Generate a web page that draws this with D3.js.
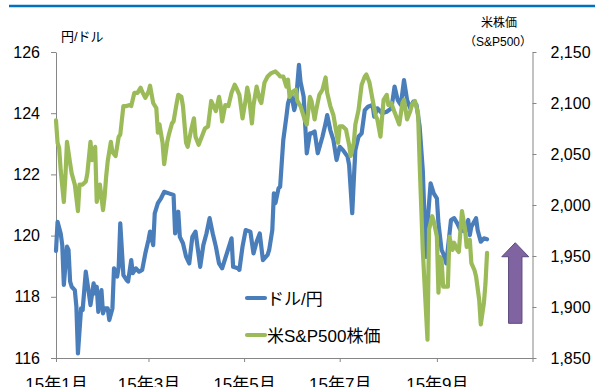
<!DOCTYPE html>
<html>
<head>
<meta charset="utf-8">
<script src="https://cdn.jsdelivr.net/npm/d3@7"></script>
<style>
    body { margin: 0; background: #fff; }
    svg { display: block; }
    .num { font-family: "Liberation Sans", Arial, sans-serif; }
    .jp { font-family: "Liberation Sans", "Noto Sans CJK JP", sans-serif; }
</style>
</head>
<body>
<svg id="chart" width="595" height="387"></svg>
<script>
// dollar / yen
const usdJpy = [
    ["2015-01-01", 119.5], ["2015-01-02", 120.45], ["2015-01-04", 120.07], ["2015-01-05", 119.69],
    ["2015-01-06", 118.39], ["2015-01-08", 119.64], ["2015-01-09", 119.53], ["2015-01-10", 118.5],
    ["2015-01-11", 118.33], ["2015-01-13", 118.22], ["2015-01-14", 117.68], ["2015-01-15", 116.15],
    ["2015-01-17", 117.62], ["2015-01-18", 117.57], ["2015-01-20", 118.82], ["2015-01-22", 118.11],
    ["2015-01-23", 117.73], ["2015-01-25", 118.44], ["2015-01-26", 118.11], ["2015-01-27", 118.33],
    ["2015-01-28", 117.51], ["2015-01-30", 118.22], ["2015-01-31", 117.46], ["2015-02-01", 117.62],
    ["2015-02-03", 117.62], ["2015-02-04", 117.24], ["2015-02-06", 117.62], ["2015-02-07", 118.93],
    ["2015-02-09", 118.66], ["2015-02-10", 118.98], ["2015-02-11", 120.4], ["2015-02-13", 118.71],
    ["2015-02-15", 118.55], ["2015-02-16", 118.5], ["2015-02-18", 119.2], ["2015-02-19", 118.77],
    ["2015-02-21", 118.93], ["2015-02-23", 118.82], ["2015-02-25", 118.88], ["2015-02-27", 119.42],
    ["2015-03-01", 119.86], ["2015-03-02", 120.13], ["2015-03-04", 119.69], ["2015-03-05", 120.73],
    ["2015-03-07", 121.06], ["2015-03-09", 121.22], ["2015-03-11", 121.43], ["2015-03-14", 121.38],
    ["2015-03-17", 121.33], ["2015-03-18", 120.07], ["2015-03-20", 120.78], ["2015-03-21", 119.96],
    ["2015-03-23", 119.75], ["2015-03-25", 119.31], ["2015-03-27", 119.09], ["2015-03-29", 119.96],
    ["2015-03-31", 120.13], ["2015-04-03", 118.98], ["2015-04-05", 119.69], ["2015-04-07", 120.07],
    ["2015-04-09", 120.57], ["2015-04-11", 120.07], ["2015-04-13", 119.64], ["2015-04-15", 119.09],
    ["2015-04-17", 118.93], ["2015-04-20", 119.42], ["2015-04-23", 119.91], ["2015-04-24", 118.98],
    ["2015-04-27", 118.93], ["2015-04-28", 118.88], ["2015-04-30", 119.64], ["2015-05-02", 120.18],
    ["2015-05-05", 120.13], ["2015-05-07", 119.42], ["2015-05-09", 119.8], ["2015-05-11", 120.07],
    ["2015-05-13", 119.2], ["2015-05-16", 119.37], ["2015-05-17", 119.53], ["2015-05-19", 120.18],
    ["2015-05-20", 121.38], ["2015-05-21", 121.06], ["2015-05-23", 121.55], ["2015-05-24", 121.6],
    ["2015-05-26", 123.12], ["2015-05-28", 123.89], ["2015-05-29", 124.32], ["2015-05-31", 124.65],
    ["2015-06-02", 124.1], ["2015-06-03", 124.32], ["2015-06-05", 125.58], ["2015-06-06", 125.03],
    ["2015-06-08", 124.54], ["2015-06-10", 122.69], ["2015-06-12", 123.34], ["2015-06-13", 123.34],
    ["2015-06-15", 123.4], ["2015-06-17", 122.69], ["2015-06-20", 123.23], ["2015-06-22", 123.67],
    ["2015-06-23", 123.94], ["2015-06-25", 123.45], ["2015-06-27", 123.12], ["2015-06-29", 122.47],
    ["2015-07-01", 122.9], ["2015-07-03", 122.8], ["2015-07-06", 122.58], ["2015-07-07", 122.31],
    ["2015-07-09", 120.73], ["2015-07-10", 121.82], ["2015-07-11", 122.8], ["2015-07-13", 123.23],
    ["2015-07-15", 123.34], ["2015-07-17", 124.1], ["2015-07-19", 124.21], ["2015-07-22", 124.27],
    ["2015-07-23", 123.89], ["2015-07-25", 124.16], ["2015-07-28", 124.0], ["2015-07-31", 124.05],
    ["2015-08-03", 124.16], ["2015-08-05", 124.87], ["2015-08-07", 124.43], ["2015-08-09", 124.27],
    ["2015-08-11", 125.08], ["2015-08-13", 124.43], ["2015-08-15", 124.16], ["2015-08-17", 124.38],
    ["2015-08-19", 124.27], ["2015-08-21", 123.56], ["2015-08-23", 122.14], ["2015-08-25", 119.3],
    ["2015-08-26", 120.4], ["2015-08-28", 121.71], ["2015-08-30", 121.38], ["2015-09-01", 121.22],
    ["2015-09-02", 120.4], ["2015-09-04", 119.53], ["2015-09-05", 119.42], ["2015-09-07", 119.09],
    ["2015-09-10", 120.51], ["2015-09-12", 120.57], ["2015-09-14", 120.4], ["2015-09-16", 120.18],
    ["2015-09-19", 120.13], ["2015-09-21", 120.51], ["2015-09-22", 120.02], ["2015-09-23", 120.29],
    ["2015-09-26", 120.57], ["2015-09-27", 120.18], ["2015-09-29", 119.8], ["2015-10-01", 119.91],
    ["2015-10-03", 119.88]
];

// S&P500
const spx = [
    ["2015-01-01", 2083], ["2015-01-02", 2061], ["2015-01-03", 2056], ["2015-01-04", 2034],
    ["2015-01-06", 2003], ["2015-01-07", 2028], ["2015-01-08", 2062], ["2015-01-10", 2041],
    ["2015-01-11", 2031], ["2015-01-13", 2020], ["2015-01-15", 1994], ["2015-01-16", 2020],
    ["2015-01-18", 2020], ["2015-01-20", 2023], ["2015-01-21", 2031], ["2015-01-23", 2062],
    ["2015-01-24", 2044], ["2015-01-26", 2057], ["2015-01-27", 2003], ["2015-01-29", 2020],
    ["2015-01-31", 1995], ["2015-02-01", 2008], ["2015-02-02", 2028], ["2015-02-03", 2043],
    ["2015-02-05", 2062], ["2015-02-06", 2052], ["2015-02-08", 2048], ["2015-02-10", 2067],
    ["2015-02-11", 2069], ["2015-02-13", 2097], ["2015-02-15", 2097], ["2015-02-17", 2098],
    ["2015-02-18", 2097], ["2015-02-20", 2110], ["2015-02-22", 2110], ["2015-02-24", 2115],
    ["2015-02-25", 2111], ["2015-02-27", 2105], ["2015-03-01", 2111], ["2015-03-02", 2117],
    ["2015-03-04", 2100], ["2015-03-06", 2095], ["2015-03-07", 2071], ["2015-03-08", 2079],
    ["2015-03-10", 2061], ["2015-03-11", 2040], ["2015-03-13", 2062], ["2015-03-14", 2069],
    ["2015-03-16", 2080], ["2015-03-17", 2082], ["2015-03-19", 2100], ["2015-03-20", 2108],
    ["2015-03-22", 2106], ["2015-03-23", 2097], ["2015-03-25", 2061], ["2015-03-26", 2057],
    ["2015-03-28", 2072], ["2015-03-30", 2085], ["2015-03-31", 2067], ["2015-04-02", 2059],
    ["2015-04-04", 2067], ["2015-04-06", 2075], ["2015-04-08", 2077], ["2015-04-10", 2102],
    ["2015-04-13", 2092], ["2015-04-15", 2106], ["2015-04-16", 2098], ["2015-04-17", 2082],
    ["2015-04-19", 2098], ["2015-04-21", 2097], ["2015-04-23", 2110], ["2015-04-25", 2118],
    ["2015-04-26", 2115], ["2015-04-28", 2108], ["2015-04-30", 2085], ["2015-05-02", 2103],
    ["2015-05-03", 2115], ["2015-05-04", 2108], ["2015-05-06", 2080], ["2015-05-07", 2098],
    ["2015-05-09", 2116], ["2015-05-11", 2103], ["2015-05-12", 2100], ["2015-05-14", 2120],
    ["2015-05-16", 2126], ["2015-05-18", 2129], ["2015-05-21", 2131], ["2015-05-23", 2128],
    ["2015-05-24", 2126], ["2015-05-26", 2126], ["2015-05-28", 2116], ["2015-05-29", 2123],
    ["2015-05-30", 2106], ["2015-06-01", 2111], ["2015-06-03", 2113], ["2015-06-04", 2102],
    ["2015-06-06", 2097], ["2015-06-09", 2082], ["2015-06-10", 2079], ["2015-06-12", 2106],
    ["2015-06-13", 2102], ["2015-06-15", 2084], ["2015-06-16", 2093], ["2015-06-18", 2108],
    ["2015-06-20", 2113], ["2015-06-22", 2125], ["2015-06-23", 2110], ["2015-06-25", 2097],
    ["2015-06-27", 2088], ["2015-06-28", 2079], ["2015-06-30", 2061], ["2015-07-01", 2077],
    ["2015-07-03", 2077], ["2015-07-05", 2074], ["2015-07-07", 2059], ["2015-07-08", 2048],
    ["2015-07-10", 2061], ["2015-07-11", 2079], ["2015-07-13", 2093], ["2015-07-15", 2118],
    ["2015-07-17", 2126], ["2015-07-18", 2128], ["2015-07-20", 2120], ["2015-07-22", 2103],
    ["2015-07-24", 2087], ["2015-07-25", 2084], ["2015-07-27", 2067], ["2015-07-29", 2103],
    ["2015-07-31", 2108], ["2015-08-01", 2098], ["2015-08-03", 2100], ["2015-08-04", 2095],
    ["2015-08-06", 2087], ["2015-08-08", 2079], ["2015-08-10", 2100], ["2015-08-11", 2103],
    ["2015-08-13", 2084], ["2015-08-15", 2092], ["2015-08-16", 2098], ["2015-08-18", 2102],
    ["2015-08-20", 2090], ["2015-08-21", 2041], ["2015-08-23", 1956], ["2015-08-25", 1897],
    ["2015-08-26", 1868], ["2015-08-27", 1976], ["2015-08-29", 1989], ["2015-08-30", 1984],
    ["2015-09-01", 1969], ["2015-09-02", 1914], ["2015-09-03", 1949], ["2015-09-04", 1946],
    ["2015-09-05", 1920], ["2015-09-08", 1920], ["2015-09-09", 1969], ["2015-09-11", 1956],
    ["2015-09-12", 1963], ["2015-09-14", 1956], ["2015-09-15", 1954], ["2015-09-17", 1994],
    ["2015-09-19", 1976], ["2015-09-20", 1959], ["2015-09-22", 1966], ["2015-09-23", 1943],
    ["2015-09-25", 1936], ["2015-09-26", 1930], ["2015-09-28", 1907], ["2015-09-29", 1883],
    ["2015-10-01", 1904], ["2015-10-02", 1923], ["2015-10-03", 1953]
];

const yenTicks = [116, 118, 120, 122, 124, 126];
const spxTicks = [1850, 1900, 1950, 2000, 2050, 2100, 2150];
const monthTicks = ["2015-01-01", "2015-03-01", "2015-05-01", "2015-07-01", "2015-09-01", "2015-11-01"];
const monthLabels = ["15年1月", "15年3月", "15年5月", "15年7月", "15年9月", ""];
const seriesNames = ["ドル/円", "米S&P500株価"];
const seriesColors = ["#4A7EBB", "#9BBB59"];
// purple arrow: date and S&P range on the right axis
const arrowAt = ["2015-10-21", 1884, 1963];

let parse = d3.timeParse("%Y-%m-%d");
let svg = d3.select("#chart");

let plotLeft = 56, plotRight = 532.5, plotTop = 52, plotBottom = 358;

let x = d3.scaleTime()
    .domain([parse("2015-01-01"), parse("2015-11-01")])
    .range([plotLeft, plotRight]);
let yL = d3.scaleLinear().domain([116, 126]).range([plotBottom, plotTop]);
let yR = d3.scaleLinear().domain([1850, 2150]).range([plotBottom, plotTop]);

// blue rule at the top
svg.append("line")
    .attr("x1", 9).attr("x2", 595)
    .attr("y1", 6).attr("y2", 6)
    .attr("stroke", "#0070C0")
    .attr("stroke-width", 2.5);

function styleAxis(g) {
    g.selectAll("path.domain").attr("stroke", "#868686").attr("fill", "none");
    g.selectAll(".tick line").attr("stroke", "#868686");
    g.selectAll(".tick text").attr("fill", "#000").attr("font-size", 16);
}

svg.append("g")
    .attr("class", "num")
    .attr("transform", `translate(${plotLeft},0)`)
    .call(d3.axisLeft(yL).tickValues(yenTicks).tickSize(5).tickSizeOuter(0).tickPadding(11))
    .call(styleAxis);

svg.append("g")
    .attr("class", "num")
    .attr("transform", `translate(${plotRight},0)`)
    .call(d3.axisRight(yR).tickValues(spxTicks).tickSize(4).tickSizeOuter(0).tickPadding(14)
        .tickFormat(d3.format(",")))
    .call(styleAxis);

let monthDates = monthTicks.map(parse);
let xAxisG = svg.append("g")
    .attr("class", "jp")
    .attr("transform", `translate(0,${plotBottom})`)
    .call(d3.axisBottom(x).tickValues(monthDates).tickSize(4).tickSizeOuter(0).tickPadding(16)
        .tickFormat((d, i) => monthLabels[i]))
    .call(styleAxis);
xAxisG.selectAll(".tick text").attr("font-size", 17);

// lines
let usdLine = d3.line()
    .x(d => x(parse(d[0])))
    .y(d => yL(d[1]));
let spxLine = d3.line()
    .x(d => x(parse(d[0])))
    .y(d => yR(d[1]));

svg.append("path")
    .datum(usdJpy)
    .attr("d", usdLine)
    .attr("fill", "none")
    .attr("stroke", seriesColors[0])
    .attr("stroke-width", 4.2)
    .attr("stroke-linejoin", "round")
    .attr("stroke-linecap", "round");

svg.append("path")
    .datum(spx)
    .attr("d", spxLine)
    .attr("fill", "none")
    .attr("stroke", seriesColors[1])
    .attr("stroke-width", 4.2)
    .attr("stroke-linejoin", "round")
    .attr("stroke-linecap", "round");

// axis titles
svg.append("text")
    .attr("class", "jp")
    .attr("x", 61).attr("y", 41)
    .attr("font-size", 13)
    .text("円/ドル");

svg.append("text")
    .attr("class", "jp")
    .attr("x", 499).attr("y", 27)
    .attr("text-anchor", "middle")
    .attr("font-size", 12)
    .text("米株価");

svg.append("text")
    .attr("class", "jp")
    .attr("x", 498).attr("y", 46)
    .attr("text-anchor", "middle")
    .attr("font-size", 12)
    .text("（S&P500）");

// legend
let legend = svg.append("g").attr("class", "jp");
seriesNames.forEach((name, i) => {
    let ly = 298 + i * 37;
    legend.append("line")
        .attr("x1", 247).attr("x2", 265)
        .attr("y1", ly).attr("y2", ly)
        .attr("stroke", seriesColors[i])
        .attr("stroke-width", 4.2)
        .attr("stroke-linecap", "round");
    legend.append("text")
        .attr("x", 267).attr("y", ly + 7)
        .attr("font-size", 17)
        .text(name);
});

// arrow
let ax = x(parse(arrowAt[0]));
let yBot = yR(arrowAt[1]), yTop = yR(arrowAt[2]);
let headW = 13.5, shaftW = 6.7, headH = 14;
let pts = [
    [ax, yTop],
    [ax + headW, yTop + headH],
    [ax + shaftW, yTop + headH],
    [ax + shaftW, yBot],
    [ax - shaftW, yBot],
    [ax - shaftW, yTop + headH],
    [ax - headW, yTop + headH]
];
svg.append("polygon")
    .attr("points", pts.map(p => p.join(",")).join(" "))
    .attr("fill", "#8064A2")
    .attr("stroke", "#5C4A7D")
    .attr("stroke-width", 1);
</script>
</body>
</html>
